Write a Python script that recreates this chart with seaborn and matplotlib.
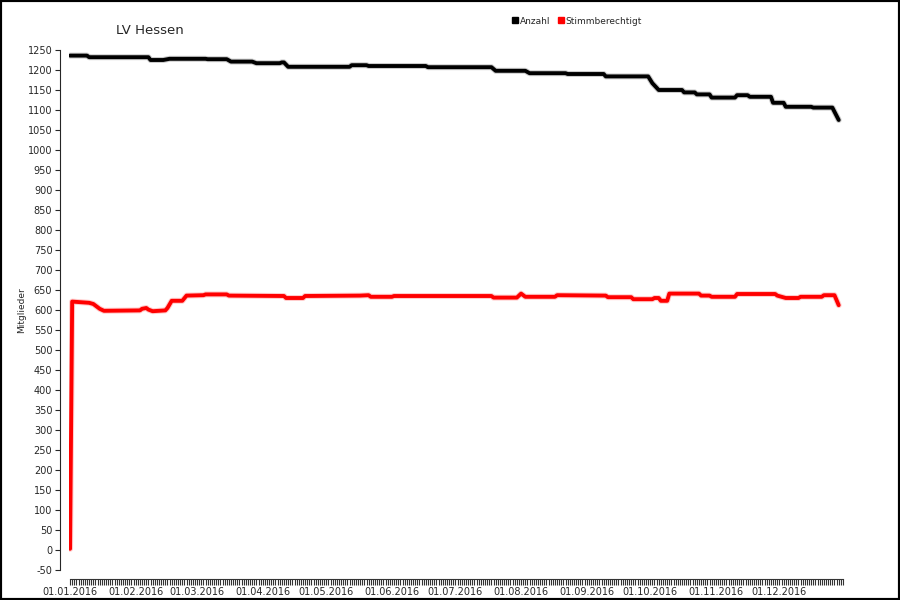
import pandas as pd
import matplotlib.pyplot as plt
import matplotlib.dates as mdates
import matplotlib.patheffects as pe
from matplotlib.lines import Line2D
import seaborn as sns

# Mitgliederentwicklung LV Hessen 2016
anzahl_datum = [
    "2016-01-01", "2016-01-09", "2016-01-10", "2016-02-07", "2016-02-08", "2016-02-14",
    "2016-02-17", "2016-03-05", "2016-03-06", "2016-03-15", "2016-03-17", "2016-03-27",
    "2016-03-29", "2016-04-09", "2016-04-10", "2016-04-11", "2016-04-13", "2016-05-12",
    "2016-05-13", "2016-05-20", "2016-05-21", "2016-06-17", "2016-06-18", "2016-07-18",
    "2016-07-20", "2016-08-03", "2016-08-05", "2016-08-22", "2016-08-23", "2016-09-09",
    "2016-09-10", "2016-09-30", "2016-10-02", "2016-10-05", "2016-10-16", "2016-10-17",
    "2016-10-22", "2016-10-23", "2016-10-29", "2016-10-30", "2016-11-10", "2016-11-11",
    "2016-11-16", "2016-11-17", "2016-11-27", "2016-11-28", "2016-12-03", "2016-12-04",
    "2016-12-16", "2016-12-17", "2016-12-26", "2016-12-29",
]
anzahl_wert = [
    1236, 1236, 1232, 1232, 1225, 1225,
    1228, 1228, 1227, 1227, 1221, 1221,
    1217, 1217, 1219, 1219, 1208, 1208,
    1212, 1212, 1210, 1210, 1207, 1207,
    1198, 1198, 1192, 1192, 1190, 1190,
    1184, 1184, 1167, 1150, 1150, 1144,
    1144, 1139, 1139, 1131, 1131, 1137,
    1137, 1133, 1133, 1118, 1118, 1108,
    1108, 1106, 1106, 1075,
]

stimm_datum = [
    "2016-01-01", "2016-01-02", "2016-01-10", "2016-01-12", "2016-01-15", "2016-01-17",
    "2016-02-03", "2016-02-04", "2016-02-06", "2016-02-07", "2016-02-09", "2016-02-15",
    "2016-02-16", "2016-02-18", "2016-02-23", "2016-02-25", "2016-03-04", "2016-03-05",
    "2016-03-15", "2016-03-16", "2016-04-11", "2016-04-12", "2016-04-20", "2016-04-21",
    "2016-05-17", "2016-05-21", "2016-05-22", "2016-06-01", "2016-06-02", "2016-07-18",
    "2016-07-19", "2016-07-30", "2016-08-01", "2016-08-03", "2016-08-17", "2016-08-18",
    "2016-09-10", "2016-09-11", "2016-09-22", "2016-09-23", "2016-10-02", "2016-10-03",
    "2016-10-05", "2016-10-06", "2016-10-09", "2016-10-10", "2016-10-24", "2016-10-25",
    "2016-10-29", "2016-10-30", "2016-11-10", "2016-11-11", "2016-11-29", "2016-11-30",
    "2016-12-04", "2016-12-10", "2016-12-11", "2016-12-21", "2016-12-22", "2016-12-27",
    "2016-12-29",
]
stimm_wert = [
    3, 621, 618, 615, 603, 598,
    599, 603, 605, 601, 597, 599,
    605, 623, 623, 636, 637, 639,
    639, 636, 635, 630, 630, 635,
    636, 637, 633, 633, 635, 635,
    631, 631, 641, 633, 633, 637,
    636, 632, 632, 627, 627, 630,
    630, 623, 623, 641, 641, 636,
    636, 633, 633, 640, 640, 636,
    630, 630, 633, 633, 637, 637,
    612,
]

farben = {"Anzahl": "black", "Stimmberechtigt": "red"}

df = pd.concat([
    pd.DataFrame({"Datum": pd.to_datetime(anzahl_datum), "Mitglieder": anzahl_wert, "Reihe": "Anzahl"}),
    pd.DataFrame({"Datum": pd.to_datetime(stimm_datum), "Mitglieder": stimm_wert, "Reihe": "Stimmberechtigt"}),
], ignore_index=True)

sns.set_style("ticks")
plt.rcParams["font.family"] = ["DejaVu Sans"]
plt.rcParams["axes.unicode_minus"] = False

fig = plt.figure(figsize=(9, 6), dpi=100)
ax = fig.add_axes([69 / 900, 0.05, (844 - 69) / 900, 520 / 600])

sns.lineplot(data=df, x="Datum", y="Mitglieder", hue="Reihe", palette=farben,
             linewidth=2.8, estimator=None, sort=False, legend=False, ax=ax)

# weicher Rand um die Linien
for line in ax.lines:
    line.set_path_effects([pe.Stroke(linewidth=4.3, foreground=line.get_color(), alpha=0.2),
                           pe.Normal()])

ax.set_xlim(pd.Timestamp("2015-12-31 12:00"), pd.Timestamp("2016-12-31 12:00"))
ax.set_ylim(-50, 1250)
ax.set_yticks(range(-50, 1251, 50))

ax.xaxis.set_major_locator(mdates.MonthLocator())
ax.xaxis.set_major_formatter(mdates.DateFormatter("%d.%m.%Y"))
ax.xaxis.set_minor_locator(mdates.DayLocator())
ax.tick_params(axis="x", which="both", length=4, width=0.8, color="#333333",
               labelsize=7, pad=2)
ax.tick_params(axis="y", length=3.5, width=0.8, labelsize=7, pad=2)

sns.despine(ax=ax)
ax.spines["left"].set_position(("outward", 6.5))
ax.spines["bottom"].set_position(("outward", 6.5))
ax.spines["bottom"].set_bounds(mdates.date2num(pd.Timestamp("2016-01-01")),
                               mdates.date2num(pd.Timestamp("2016-12-31")))
ax.spines["bottom"].set_color("#333333")

ax.set_xlabel("")
ax.set_ylabel("Mitglieder", fontsize=6.5, labelpad=1)

fig.text(150 / 900, 1 - 30 / 600, "LV Hessen", fontsize=9.5, ha="center", va="center")

handles = [Line2D([], [], marker="s", linestyle="none", markersize=5,
                  markerfacecolor=farben[k], markeredgecolor=farben[k]) for k in farben]
fig.legend(handles, list(farben), loc="center", bbox_to_anchor=(0.641, 0.965), ncol=2,
           frameon=False, fontsize=6.5, handletextpad=0.1, columnspacing=0.8,
           handlelength=0.8)

# Rahmen um die ganze Grafik
fig.add_artist(plt.Rectangle((0, 0), 1, 1, transform=fig.transFigure, fill=False,
                             linewidth=3, edgecolor="black"))

plt.savefig("out.png", dpi=100)
